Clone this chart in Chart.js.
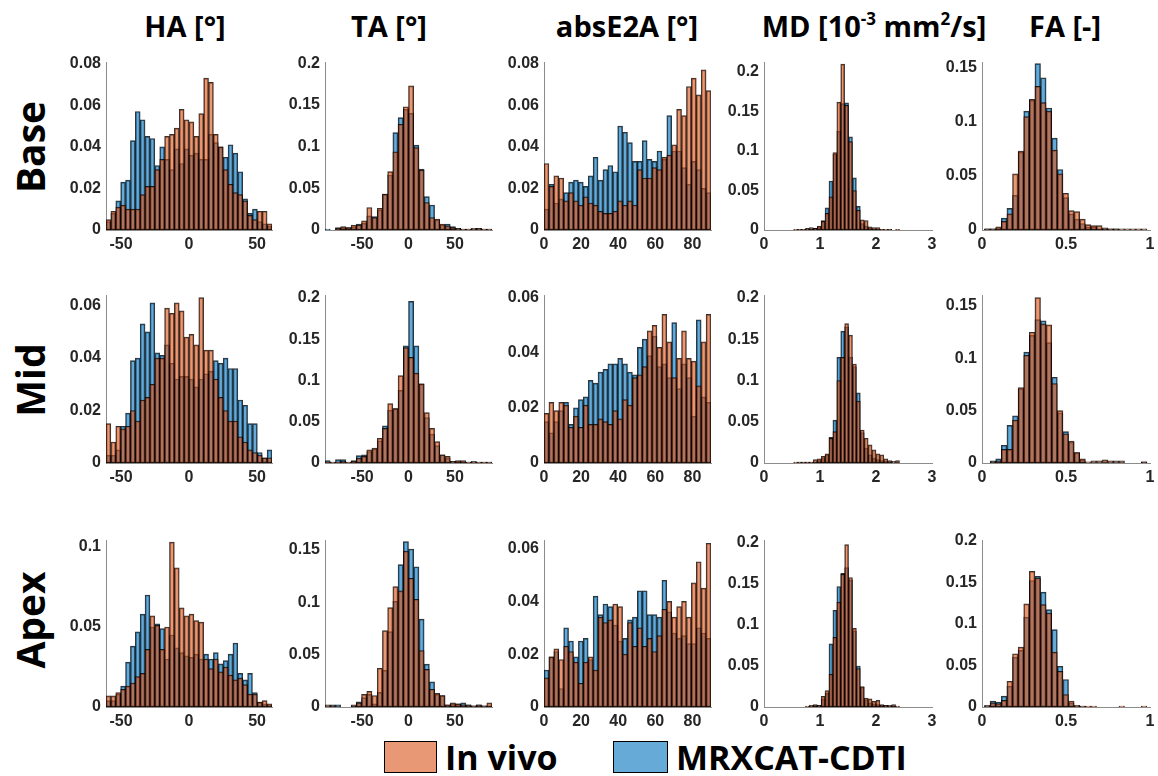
<!DOCTYPE html>
<html>
<head>
<meta charset="utf-8">
<title>DTI parameter histograms</title>
<script src="https://cdn.jsdelivr.net/npm/chart.js@4.4.1/dist/chart.umd.min.js"></script>
<style>
  html, body { margin: 0; padding: 0; background: #fff; }
  body { position: relative; width: 1158px; height: 776px; overflow: hidden; font-family: "Open Sans", sans-serif; color: #000; }
  .panel { position: absolute; }
  .lbl { position: absolute; font-weight: 700; white-space: nowrap; transform: translate(-50%, -50%); }
  .col { font-size: 29px; }
  .col sup { font-size: 17px; vertical-align: 12px; line-height: 0; }
  .row { font-size: 39px; transform: translate(-50%, -50%) rotate(-90deg); }
  .key { position: absolute; top: 741px; height: 32px; border: 1px solid #000; box-sizing: border-box; }
  .keytext { position: absolute; top: 757px; font-size: 34px; font-weight: 700; transform: translateY(-50%); white-space: nowrap; }
</style>
</head>
<body>

<div class="lbl col" style="left:185px; top:25px;">HA [°]</div>
<div class="lbl col" style="left:389px; top:25px;">TA [°]</div>
<div class="lbl col" style="left:627px; top:25px;">absE2A [°]</div>
<div class="lbl col" style="left:874px; top:25px;">MD [10<sup>-3</sup> mm<sup>2</sup>/s]</div>
<div class="lbl col" style="left:1065px; top:25px;">FA [-]</div>

<div class="lbl row" style="left:29px; top:147px;">Base</div>
<div class="lbl row" style="left:29px; top:380px;">Mid</div>
<div class="lbl row" style="left:29px; top:620px;">Apex</div>

<div class="key" style="left:384px; width:53px; background:rgba(217,83,25,0.6);"></div>
<div class="keytext" style="left:445px;">In vivo</div>
<div class="key" style="left:613px; width:55px; background:rgba(0,114,189,0.6);"></div>
<div class="keytext" style="left:676px;">MRXCAT-CDTI</div>

<script>
// ---- histogram data (normalised bin heights) ----
// HA: 34 bins over [-61, 61]
const haBaseVivo = [0.005,0.009,0.011,0.012,0.010,0.010,0.010,0.017,0.021,0.021,0.029,0.034,0.045,0.046,0.049,0.058,0.053,0.052,0.045,0.056,0.073,0.071,0.046,0.040,0.029,0.022,0.018,0.017,0.014,0.007,0.005,0.009,0.009,0.003];
const haBaseSim  = [0.004,0.008,0.014,0.023,0.024,0.043,0.057,0.053,0.045,0.044,0.031,0.040,0.034,0.029,0.039,0.032,0.039,0.036,0.037,0.034,0.034,0.046,0.042,0.040,0.035,0.041,0.037,0.028,0.015,0.008,0.010,0.004,0.003,0.002];
const haMidVivo  = [0.015,0.008,0.014,0.013,0.014,0.020,0.016,0.024,0.025,0.030,0.040,0.040,0.059,0.057,0.061,0.058,0.048,0.049,0.045,0.063,0.043,0.043,0.032,0.025,0.020,0.016,0.016,0.010,0.008,0.005,0.004,0.003,0.002,0.002];
const haMidSim   = [0.003,0.003,0.005,0.014,0.019,0.039,0.040,0.053,0.050,0.061,0.042,0.041,0.045,0.038,0.032,0.033,0.033,0.032,0.029,0.032,0.034,0.035,0.039,0.038,0.040,0.036,0.036,0.024,0.022,0.015,0.015,0.004,0.002,0.005];
const haApexVivo = [0.007,0.007,0.009,0.011,0.013,0.015,0.019,0.021,0.036,0.057,0.051,0.036,0.050,0.103,0.087,0.062,0.057,0.058,0.054,0.053,0.030,0.024,0.030,0.022,0.025,0.020,0.017,0.018,0.014,0.008,0.008,0.003,0.004,0.002];
const haApexSim  = [0.004,0.004,0.008,0.013,0.028,0.038,0.047,0.058,0.070,0.050,0.052,0.049,0.030,0.045,0.037,0.034,0.032,0.031,0.033,0.030,0.033,0.030,0.034,0.027,0.029,0.033,0.040,0.021,0.017,0.021,0.009,0.003,0.002,0.001];

// TA: 32 bins over [-90, 90]
const taBaseVivo = [0,0,0.002,0.004,0.003,0.006,0.006,0.011,0.027,0.015,0.026,0.043,0.070,0.094,0.127,0.148,0.173,0.099,0.072,0.033,0.015,0.013,0.007,0.005,0.003,0.002,0.001,0.001,0.002,0.002,0.001,0.001];
const taBaseSim  = [0.001,0,0.003,0.003,0.003,0.004,0.007,0.008,0.017,0.016,0.024,0.043,0.066,0.117,0.135,0.145,0.140,0.102,0.073,0.040,0.030,0.012,0.006,0.007,0.004,0.002,0.001,0.001,0.001,0.002,0.001,0.001];
const taMidVivo  = [0.001,0.001,0.001,0.002,0.001,0.002,0.006,0.008,0.016,0.018,0.030,0.042,0.072,0.066,0.106,0.140,0.128,0.109,0.096,0.061,0.042,0.026,0.010,0.008,0.002,0.003,0.003,0.001,0.001,0.001,0.001,0.001];
const taMidSim   = [0.003,0.001,0.004,0.004,0.001,0.003,0.009,0.010,0.014,0.017,0.027,0.045,0.064,0.066,0.088,0.142,0.196,0.142,0.096,0.055,0.035,0.021,0.010,0.006,0.002,0.002,0.001,0.001,0.002,0.001,0.001,0.001];
const taApexVivo = [0.002,0.001,0,0,0,0.002,0.004,0.012,0.015,0.011,0.037,0.073,0.095,0.115,0.111,0.149,0.123,0.103,0.054,0.036,0.017,0.013,0.011,0.002,0.004,0.003,0.002,0.002,0.001,0.002,0.001,0.004];
const taApexSim  = [0,0.002,0.002,0,0,0.001,0.005,0.009,0.012,0.003,0.014,0.035,0.072,0.101,0.136,0.158,0.151,0.134,0.084,0.041,0.024,0.012,0.011,0.002,0.003,0.003,0.004,0.002,0.001,0.002,0.001,0.001];

// absE2A: 34 bins over [0, 90]
const aeBaseVivo = [0.032,0.021,0.026,0.025,0.014,0.018,0.014,0.012,0.016,0.013,0.012,0.009,0.008,0.008,0.009,0.014,0.012,0.014,0.012,0.029,0.025,0.025,0.030,0.029,0.035,0.036,0.041,0.058,0.055,0.069,0.073,0.065,0.077,0.067];
const aeBaseSim  = [0.010,0.022,0.013,0.015,0.018,0.023,0.024,0.023,0.021,0.026,0.035,0.024,0.029,0.031,0.028,0.050,0.047,0.042,0.033,0.033,0.043,0.034,0.033,0.038,0.034,0.055,0.038,0.038,0.030,0.022,0.033,0.029,0.020,0.018];
const aeMidVivo  = [0.018,0.022,0.019,0.022,0.021,0.013,0.017,0.013,0.021,0.014,0.014,0.016,0.015,0.014,0.019,0.016,0.023,0.021,0.031,0.032,0.035,0.048,0.050,0.042,0.054,0.044,0.031,0.038,0.048,0.038,0.037,0.028,0.044,0.054];
const aeMidSim   = [0.015,0.011,0.015,0.019,0.022,0.014,0.020,0.023,0.024,0.030,0.029,0.033,0.034,0.036,0.036,0.038,0.036,0.033,0.032,0.042,0.045,0.039,0.046,0.035,0.036,0.031,0.051,0.027,0.036,0.031,0.017,0.052,0.024,0.022];
const aeApexVivo = [0.011,0.019,0.022,0.018,0.023,0.021,0.017,0.009,0.017,0.019,0.014,0.034,0.032,0.033,0.039,0.038,0.020,0.032,0.023,0.030,0.023,0.026,0.021,0.027,0.037,0.040,0.034,0.038,0.040,0.034,0.047,0.055,0.045,0.062];
const aeApexSim  = [0.014,0.019,0.021,0.007,0.030,0.025,0.019,0.025,0.026,0.018,0.042,0.035,0.039,0.038,0.031,0.025,0.026,0.033,0.034,0.044,0.044,0.035,0.035,0.034,0.048,0.036,0.028,0.026,0.027,0.024,0.024,0.030,0.028,0.026];

// MD: 29 bins over [0.46, 2.49]
const mdBaseVivo = [0,0.001,0.001,0.001,0.002,0.003,0.002,0.005,0.011,0.021,0.042,0.098,0.162,0.210,0.158,0.112,0.050,0.025,0.013,0.012,0.004,0.003,0.003,0.001,0.001,0.001,0,0.001,0];
const mdBaseSim  = [0,0,0.001,0.001,0.001,0.001,0.002,0.004,0.012,0.028,0.062,0.096,0.125,0.160,0.161,0.118,0.066,0.030,0.008,0.005,0.002,0.001,0.001,0.001,0,0.001,0,0,0];
const mdMidVivo  = [0,0.001,0.001,0.001,0.001,0.001,0.004,0.005,0.008,0.011,0.030,0.038,0.100,0.128,0.169,0.155,0.120,0.075,0.040,0.030,0.022,0.016,0.011,0.010,0.005,0.003,0.002,0.003,0];
const mdMidSim   = [0,0,0.001,0.001,0.001,0.001,0.001,0.003,0.006,0.010,0.031,0.052,0.128,0.160,0.165,0.128,0.117,0.085,0.037,0.018,0.010,0.006,0.004,0.003,0.002,0.001,0,0,0];
const mdApexVivo = [0,0,0,0,0.001,0.002,0.003,0.002,0.013,0.020,0.040,0.085,0.128,0.162,0.198,0.158,0.096,0.047,0.025,0.011,0.010,0.007,0.008,0.003,0.002,0.002,0.003,0.001,0];
const mdApexSim  = [0,0,0,0,0,0.001,0.002,0.002,0.010,0.017,0.077,0.118,0.147,0.163,0.170,0.155,0.093,0.050,0.024,0.009,0.005,0.004,0.003,0.002,0.002,0.001,0.001,0,0];

// FA: 29 bins over [0.015, 0.982]
const faBaseVivo = [0.001,0.001,0.003,0.008,0.015,0.052,0.073,0.105,0.121,0.133,0.118,0.110,0.074,0.052,0.034,0.018,0.017,0.010,0.005,0.004,0.004,0.002,0.001,0.001,0.001,0.001,0.001,0.001,0.001];
const faBaseSim  = [0.001,0.001,0.002,0.011,0.020,0.032,0.072,0.110,0.120,0.154,0.141,0.113,0.085,0.056,0.030,0.015,0.010,0.006,0.003,0.003,0.001,0.001,0.001,0.001,0,0,0,0,0];
const faMidVivo  = [0,0.001,0.002,0.013,0.013,0.041,0.072,0.103,0.125,0.158,0.133,0.132,0.076,0.050,0.028,0.021,0.010,0.004,0.001,0.002,0.002,0.003,0.002,0.002,0.002,0,0,0,0.001];
const faMidSim   = [0,0.002,0.004,0.017,0.036,0.045,0.071,0.106,0.122,0.137,0.136,0.115,0.082,0.048,0.030,0.020,0.010,0.003,0,0,0,0,0,0,0,0,0,0,0.001];
const faApexVivo = [0.002,0.005,0.004,0.008,0.031,0.064,0.072,0.124,0.163,0.155,0.123,0.113,0.066,0.043,0.015,0.007,0.002,0.001,0.001,0.001,0,0,0,0,0.001,0,0,0,0.001];
const faApexSim  = [0.001,0.007,0.006,0.013,0.025,0.060,0.068,0.108,0.152,0.157,0.138,0.117,0.093,0.049,0.033,0.005,0.001,0.001,0,0,0,0,0,0,0,0,0,0,0];

// bin edge ranges, axis limits and ticks per column
const binRanges = [[-61, 61], [-90, 90], [0, 90], [0.46, 2.49], [0.015, 0.9817]];
const xLimits   = [[-61, 61], [-90, 90], [0, 90], [0, 3], [0, 1]];
const xTicks    = [[-50, 0, 50], [-50, 0, 50], [0, 20, 40, 60, 80], [0, 1, 2, 3], [0, 0.5, 1]];

// y axis top and ticks per row
const yMaxBase = [0.0805, 0.201, 0.0805, 0.212, 0.155];
const yMaxMid  = [0.0638, 0.203, 0.0608, 0.203, 0.16];
const yMaxApex = [0.104, 0.159, 0.063, 0.203, 0.2];
const yTicksBase = [[0,0.02,0.04,0.06,0.08], [0,0.05,0.1,0.15,0.2], [0,0.02,0.04,0.06,0.08], [0,0.05,0.1,0.15,0.2], [0,0.05,0.1,0.15]];
const yTicksMid  = [[0,0.02,0.04,0.06], [0,0.05,0.1,0.15,0.2], [0,0.02,0.04,0.06], [0,0.05,0.1,0.15,0.2], [0,0.05,0.1,0.15]];
const yTicksApex = [[0,0.05,0.1], [0,0.05,0.1,0.15], [0,0.02,0.04,0.06], [0,0.05,0.1,0.15,0.2], [0,0.05,0.1,0.15,0.2]];

const vivo = [
  [haBaseVivo, taBaseVivo, aeBaseVivo, mdBaseVivo, faBaseVivo],
  [haMidVivo,  taMidVivo,  aeMidVivo,  mdMidVivo,  faMidVivo],
  [haApexVivo, taApexVivo, aeApexVivo, mdApexVivo, faApexVivo]
];
const sim = [
  [haBaseSim, taBaseSim, aeBaseSim, mdBaseSim, faBaseSim],
  [haMidSim,  taMidSim,  aeMidSim,  mdMidSim,  faMidSim],
  [haApexSim, taApexSim, aeApexSim, mdApexSim, faApexSim]
];
const yMax = [yMaxBase, yMaxMid, yMaxApex];
const yTicks = [yTicksBase, yTicksMid, yTicksApex];

// ---- layout (plot-area boxes in page pixels) ----
const colLeft   = [106, 325, 544, 764, 982];
const colWidth  = [166, 167, 167, 168, 168];
const rowTop    = [62, 295, 540];
const rowHeight = [168, 168, 167];
const Y_W = 52, X_H = 30, PAD_T = 14, PAD_R = 12;

const ORANGE = "rgba(217,83,25,0.6)";
const BLUE   = "rgba(0,114,189,0.6)";
const EDGE   = "rgba(0,0,0,0.8)";
const AXIS   = "#8c8c8c";
const TICK_FONT = { family: "'Liberation Sans', Arial, sans-serif", weight: "bold", size: 16 };

const fmt = (v) => String(Math.round(v * 1000) / 1000);

function binCenters(range, n){
  const w = (range[1] - range[0]) / n;
  return Array.from({ length: n }, (_, i) => range[0] + (i + 0.5) * w);
}

function makePanel(r, c){
  const wrap = document.createElement("div");
  wrap.className = "panel";
  const w = colWidth[c] + Y_W + PAD_R;
  const h = rowHeight[r] + PAD_T + X_H;
  wrap.style.left = (colLeft[c] - Y_W) + "px";
  wrap.style.top = (rowTop[r] - PAD_T) + "px";
  wrap.style.width = w + "px";
  wrap.style.height = h + "px";
  const cv = document.createElement("canvas");
  cv.width = w; cv.height = h;
  cv.style.width = w + "px"; cv.style.height = h + "px";
  wrap.appendChild(cv);
  document.body.appendChild(wrap);

  const a = vivo[r][c], b = sim[r][c];
  const xs = binCenters(binRanges[c], a.length);

  new Chart(cv, {
    type: "bar",
    data: {
      datasets: [
        // in vivo first so it is painted over the simulation
        { label: "In vivo", data: a.map((y, i) => ({ x: xs[i], y })), backgroundColor: ORANGE, borderColor: EDGE },
        { label: "MRXCAT-CDTI", data: b.map((y, i) => ({ x: xs[i], y })), backgroundColor: BLUE, borderColor: EDGE }
      ]
    },
    options: {
      responsive: false,
      animation: false,
      devicePixelRatio: 1,
      layout: { padding: { top: PAD_T, right: PAD_R, left: 0, bottom: 0 } },
      plugins: { legend: { display: false }, tooltip: { enabled: false } },
      datasets: { bar: { grouped: false, barPercentage: 1, categoryPercentage: 1, borderWidth: 1, borderSkipped: false } },
      scales: {
        x: {
          type: "linear", min: xLimits[c][0], max: xLimits[c][1], offset: false,
          grid: { display: false, drawTicks: false },
          border: { color: AXIS, width: 1 },
          ticks: { font: TICK_FONT, color: "#262626", padding: 5, maxRotation: 0, callback: fmt },
          afterBuildTicks: (s) => { s.ticks = xTicks[c].map(v => ({ value: v })); },
          afterFit: (s) => { s.height = X_H; }
        },
        y: {
          min: 0, max: yMax[r][c],
          grid: { display: false, drawTicks: false },
          border: { color: AXIS, width: 1 },
          ticks: { font: TICK_FONT, color: "#262626", padding: 5, callback: fmt },
          afterBuildTicks: (s) => { s.ticks = yTicks[r][c].map(v => ({ value: v })); },
          afterFit: (s) => { s.width = Y_W; }
        }
      }
    }
  });
}

for (let r = 0; r < 3; r++){
  for (let c = 0; c < 5; c++) makePanel(r, c);
}
</script>
</body>
</html>
